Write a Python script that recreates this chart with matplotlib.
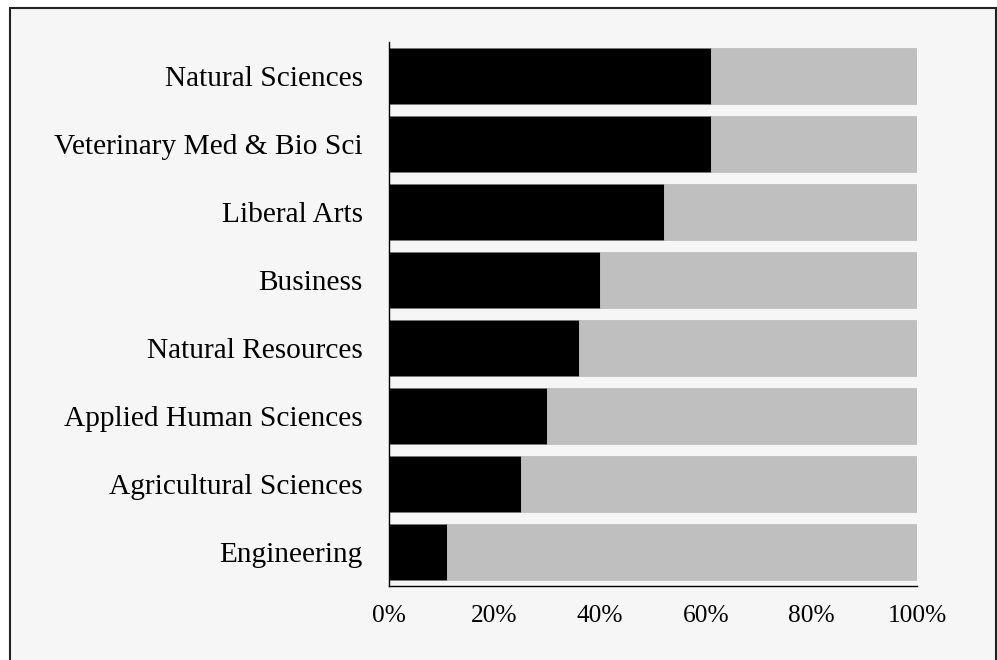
import matplotlib
matplotlib.use("Agg")
import matplotlib.pyplot as plt
from matplotlib.patches import Rectangle

categories = ["Engineering", "Agricultural Sciences", "Applied Human Sciences",
              "Natural Resources", "Business", "Liberal Arts",
              "Veterinary Med & Bio Sci", "Natural Sciences"]
share_black = [11, 25, 30, 36, 40, 52, 61, 61]
share_grey = [100 - v for v in share_black]
xtick_vals = [0, 20, 40, 60, 80, 100]
xtick_labels = ["0%", "20%", "40%", "60%", "80%", "100%"]

plt.rcParams['font.family'] = ['Liberation Serif', 'DejaVu Serif']

fig = plt.figure(figsize=(9.97, 6.6), dpi=100, facecolor='white')
bg = Rectangle((10/997, -0.05), 986/997, 1.05 - 8/660, transform=fig.transFigure,
               facecolor='#F6F6F6', edgecolor='#222222', linewidth=1.5, zorder=-10)
fig.patches.append(bg)

ax = fig.add_axes([389/997, 1 - 586/660, 528/997, 544/660])
ax.set_zorder(5)
ax.set_facecolor('none')
y = list(range(len(categories)))
ax.barh(y, share_black, height=0.82, color='black', edgecolor='#777777', linewidth=0.6)
ax.barh(y, share_grey, left=share_black, height=0.82, color='#BFBFBF', edgecolor='#BFBFBF', linewidth=0.6)

ax.set_ylim(-0.5, 7.5)
ax.set_xlim(0, 100)
ax.set_yticks(y)
ax.set_yticklabels(categories, fontsize=21.2)
ax.set_xticks(xtick_vals)
ax.set_xticklabels(xtick_labels, fontsize=18.3)
ax.tick_params(axis='both', length=0)
ax.tick_params(axis='y', pad=19)
ax.tick_params(axis='x', pad=14)
for s in ['top', 'right']:
    ax.spines[s].set_visible(False)
ax.spines['left'].set_color('black')
ax.spines['bottom'].set_color('black')
ax.spines['left'].set_linewidth(1.0)
ax.spines['bottom'].set_linewidth(1.0)

fig.savefig('out.png', dpi=100, facecolor='white')
